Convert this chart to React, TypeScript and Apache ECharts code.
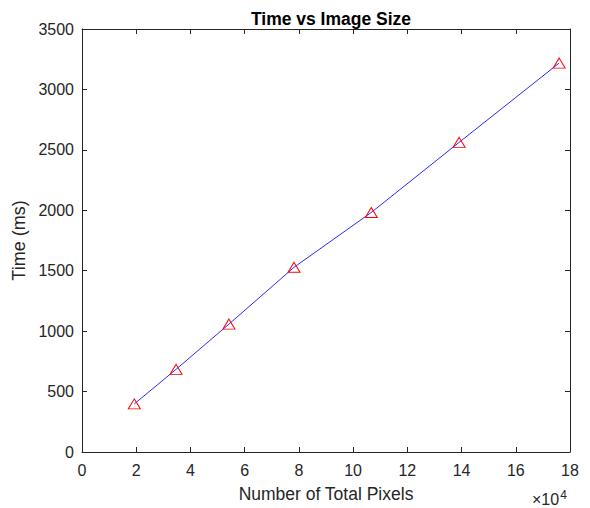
import React, { useEffect, useRef } from "react";
import * as echarts from "echarts";

const pixels: number[] = [1.93, 3.47, 5.42, 7.82, 10.67, 13.91, 17.6];
const timesMs: number[] = [398, 684, 1058, 1528, 1982, 2562, 3218];
const xTicks = { min: 0, max: 18, interval: 2 };
const yTicks = { min: 0, max: 3500, interval: 500 };

const FONT = "'Liberation Sans', Arial, sans-serif";
const AX = "#262626";

export default function App() {
  const ref = useRef<HTMLDivElement>(null);
  useEffect(() => {
    if (!ref.current) return;
    const chart = echarts.init(ref.current, undefined, { renderer: "svg" });
    const data = pixels.map((x, i) => [x, timesMs[i]]);
    const axisCommon = {
      axisLine: { show: true, onZero: false, lineStyle: { color: AX, width: 1 } },
      axisTick: { show: true, inside: true, length: 5, lineStyle: { color: AX, width: 1 } },
      splitLine: { show: false },
    };
    chart.setOption({
      animation: false,
      backgroundColor: "#ffffff",
      textStyle: { fontFamily: FONT },
      title: {
        text: "Time vs Image Size",
        left: 326,
        top: 5,
        textAlign: "center",
        textStyle: { fontFamily: FONT, fontWeight: "bold", fontSize: 17.5, color: "#000" },
      },
      grid: { left: 82, right: 20, top: 29, bottom: 53, containLabel: false },
      xAxis: [
        {
          type: "value",
          position: "bottom",
          min: xTicks.min,
          max: xTicks.max,
          interval: xTicks.interval,
          ...axisCommon,
          axisLabel: { color: AX, fontSize: 16, fontFamily: FONT, margin: 10 },
          name: "Number of Total Pixels",
          nameLocation: "middle",
          nameGap: 33,
          nameTextStyle: { color: AX, fontSize: 17.5, fontFamily: FONT },
        },
        {
          type: "value",
          position: "top",
          min: xTicks.min,
          max: xTicks.max,
          interval: xTicks.interval,
          ...axisCommon,
          axisLabel: { show: false },
        },
      ],
      yAxis: [
        {
          type: "value",
          position: "left",
          min: yTicks.min,
          max: yTicks.max,
          interval: yTicks.interval,
          ...axisCommon,
          axisLabel: {
            color: AX,
            fontSize: 16,
            fontFamily: FONT,
            margin: 8,
            formatter: (v: number) => String(v),
          },
          name: "Time (ms)",
          nameLocation: "middle",
          nameGap: 48,
          nameTextStyle: { color: AX, fontSize: 18, fontFamily: FONT },
        },
        {
          type: "value",
          position: "right",
          min: yTicks.min,
          max: yTicks.max,
          interval: yTicks.interval,
          ...axisCommon,
          axisLabel: { show: false },
        },
      ],
      graphic: [
        {
          type: "text",
          left: 532,
          top: 489,
          style: {
            text: "{a|×10}{b|4}",
            rich: {
              a: { fontSize: 16, fontFamily: FONT, fill: AX, verticalAlign: "bottom", lineHeight: 18 },
              b: { fontSize: 12, fontFamily: FONT, fill: AX, verticalAlign: "top", lineHeight: 18, padding: [0, 0, 9, 1] },
            },
          },
        },
      ],
      series: [
        {
          type: "line",
          data,
          xAxisIndex: 0,
          yAxisIndex: 0,
          lineStyle: { color: "#2a2aff", width: 1 },
          symbol: "triangle",
          symbolSize: [12, 10],
          itemStyle: { color: "transparent", borderColor: "#ff0000", borderWidth: 1 },
          emphasis: { disabled: true },
        },
      ],
    });
    return () => chart.dispose();
  }, []);
  return <div ref={ref} style={{ width: 590, height: 508, position: "absolute", left: 0, top: 0 }} />;
}
